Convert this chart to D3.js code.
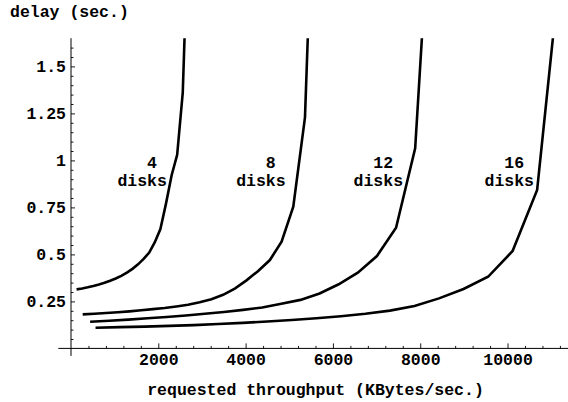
<!DOCTYPE html>
<html>
<head>
<meta charset="utf-8">
<script src="https://d3js.org/d3.v7.min.js"></script>
<style>
  body { margin: 0; background: #fff; }
  text { font-family: "Liberation Mono", "Courier New", monospace; font-weight: bold; font-size: 16.5px; fill: #000; }
</style>
</head>
<body>
<script>

// ---- data ----
var disks = [4, 8, 12, 16];

var tput4  = [128, 256, 384, 512, 640, 768, 896, 1024, 1152, 1280, 1408, 1536, 1664, 1792, 1920, 2048, 2176, 2304, 2432, 2560, 2688];
var delay4 = [0.314, 0.319, 0.325, 0.332, 0.340, 0.349, 0.360, 0.372, 0.386, 0.403, 0.423, 0.447, 0.476, 0.510, 0.565, 0.635, 0.770, 0.920, 1.03, 1.36, 2.27];

var tput8  = [268, 536, 804, 1072, 1340, 1608, 1876, 2144, 2412, 2680, 2948, 3216, 3484, 3752, 4020, 4288, 4556, 4824, 5092, 5360, 5628];
var delay8 = [0.181, 0.184, 0.188, 0.192, 0.197, 0.203, 0.209, 0.215, 0.223, 0.232, 0.245, 0.262, 0.285, 0.318, 0.362, 0.412, 0.470, 0.568, 0.754, 1.229, 3.0];

var tput12  = [438, 876, 1314, 1752, 2190, 2628, 3066, 3504, 3942, 4380, 4818, 5256, 5694, 6132, 6570, 7008, 7446, 7884, 8322];
var delay12 = [0.142, 0.147, 0.153, 0.160, 0.167, 0.175, 0.184, 0.194, 0.205, 0.218, 0.237, 0.258, 0.292, 0.341, 0.403, 0.491, 0.642, 1.064, 2.73];

var tput16  = [562, 1124, 1686, 2248, 2810, 3372, 3934, 4496, 5058, 5620, 6182, 6744, 7306, 7868, 8430, 8992, 9554, 10116, 10678, 11240];
var delay16 = [0.110, 0.113, 0.116, 0.120, 0.124, 0.130, 0.136, 0.143, 0.151, 0.160, 0.171, 0.184, 0.201, 0.226, 0.266, 0.316, 0.381, 0.518, 0.843, 2.1];

// where the "N disks" labels sit (data units)
var labelTput = [1630, 4350, 7040, 10040];
var labelDelay = 0.935;

var xTicks = [2000, 4000, 6000, 8000, 10000];
var yTicks = [0.25, 0.5, 0.75, 1, 1.25, 1.5];

// ---- layout ----
var width = 568, height = 402;
var fontSize = 16.5, advance = 0.6 * fontSize;

var x = d3.scaleLinear().domain([0, 11385]).range([71, 568]);
var y = d3.scaleLinear().domain([0, 1.65]).range([348.4, 38.2]);

var svg = d3.select("body").append("svg")
    .attr("width", width)
    .attr("height", height);

svg.append("defs").append("clipPath")
    .attr("id", "plot")
  .append("rect")
    .attr("x", x(0))
    .attr("y", y(1.65))
    .attr("width", x(11385) - x(0))
    .attr("height", y(0) - y(1.65));

// minor ticks (every 400 / every 0.05)
var xMinor = d3.range(400, 11300, 400).filter(function(v) { return v % 2000 !== 0; });
var yMinor = d3.range(1, 33).map(function(i) { return i * 0.05; })
    .filter(function(v) { return Math.abs(v / 0.25 - Math.round(v / 0.25)) > 1e-6; });

// x axis
svg.append("g")
    .attr("transform", "translate(0," + y(0) + ")")
    .call(d3.axisBottom(x).tickValues(xMinor).tickSize(-2.5).tickFormat(""))
    .call(function(g) { g.select(".domain").remove(); });

var gx = svg.append("g")
    .attr("transform", "translate(0," + y(0) + ")")
    .call(d3.axisBottom(x).tickValues(xTicks).tickSize(-5).tickPadding(4.5).tickFormat(d3.format("d")));
gx.select(".domain").remove();

// y axis
svg.append("g")
    .attr("transform", "translate(" + x(0) + ",0)")
    .call(d3.axisLeft(y).tickValues(yMinor).tickSize(-2.5).tickFormat(""))
    .call(function(g) { g.select(".domain").remove(); });

var gy = svg.append("g")
    .attr("transform", "translate(" + x(0) + ",0)")
    .call(d3.axisLeft(y).tickValues(yTicks).tickSize(-4).tickPadding(5).tickFormat(function(d) { return String(d); }));
gy.select(".domain").remove();

svg.selectAll(".tick line").attr("stroke", "#000").attr("stroke-width", 0.9);
svg.selectAll(".tick text")
    .style("font-family", '"Liberation Mono", "Courier New", monospace')
    .style("font-weight", "bold")
    .style("font-size", fontSize + "px")
    .attr("fill", "#000");

// axis lines (extend a little past the origin, as in the original)
svg.append("line")
    .attr("x1", x(-290)).attr("x2", x(11385))
    .attr("y1", y(0)).attr("y2", y(0))
    .attr("stroke", "#000").attr("stroke-width", 1);
svg.append("line")
    .attr("x1", x(0)).attr("x2", x(0))
    .attr("y1", y(1.65)).attr("y2", y(-0.04))
    .attr("stroke", "#000").attr("stroke-width", 1);

// curves
var series = [
  { n: disks[0], t: tput4,  d: delay4 },
  { n: disks[1], t: tput8,  d: delay8 },
  { n: disks[2], t: tput12, d: delay12 },
  { n: disks[3], t: tput16, d: delay16 }
];

var line = d3.line()
    .x(function(p) { return x(p[0]); })
    .y(function(p) { return y(p[1]); });

svg.append("g")
    .attr("clip-path", "url(#plot)")
  .selectAll("path")
  .data(series)
  .enter().append("path")
    .attr("fill", "none")
    .attr("stroke", "#000")
    .attr("stroke-width", 2.6)
    .attr("d", function(s) { return line(d3.zip(s.t, s.d)); });

// "N disks" labels
var labels = svg.append("g").selectAll("g")
    .data(series)
  .enter().append("g");

labels.append("text")
    .attr("x", function(s, i) { return x(labelTput[i]) + 1.5 * advance; })
    .attr("y", y(labelDelay) - 4.5)
    .attr("text-anchor", "end")
    .text(function(s) { return s.n; });

labels.append("text")
    .attr("x", function(s, i) { return x(labelTput[i]); })
    .attr("y", y(labelDelay) + 13)
    .attr("text-anchor", "middle")
    .text("disks");

// axis titles
svg.append("text")
    .attr("x", 10)
    .attr("y", 16.5)
    .text("delay (sec.)");

svg.append("text")
    .attr("x", 315.5)
    .attr("y", 395)
    .attr("text-anchor", "middle")
    .text("requested throughput (KBytes/sec.)");

</script>
</body>
</html>
